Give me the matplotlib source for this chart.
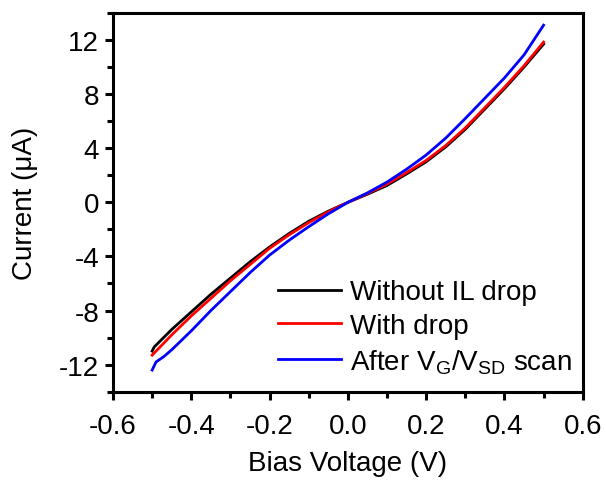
import matplotlib
matplotlib.use("Agg")
import matplotlib.pyplot as plt
from matplotlib.ticker import MultipleLocator

plt.rcParams['font.family'] = ['Liberation Sans', 'DejaVu Sans']
plt.rcParams['mathtext.fontset'] = 'custom'
plt.rcParams['mathtext.rm'] = 'Liberation Sans'

# Data
v_black = [-0.5, -0.495, -0.45, -0.40, -0.35, -0.30, -0.25, -0.20, -0.15, -0.10, -0.05,
           0.0, 0.05, 0.10, 0.15, 0.20, 0.25, 0.30, 0.35, 0.40, 0.45, 0.50]
i_black = [-11.0, -10.7, -9.4, -8.1, -6.8, -5.6, -4.4, -3.3, -2.3, -1.4, -0.65,
           0.0, 0.6, 1.25, 2.1, 3.0, 4.1, 5.4, 6.9, 8.4, 10.0, 11.7]

v_red = [-0.5, -0.45, -0.40, -0.35, -0.30, -0.25, -0.20, -0.15, -0.10, -0.05,
         0.0, 0.05, 0.10, 0.15, 0.20, 0.25, 0.30, 0.35, 0.40, 0.45, 0.50]
i_red = [-11.3, -9.8, -8.4, -7.1, -5.8, -4.6, -3.4, -2.4, -1.5, -0.7,
         0.0, 0.65, 1.35, 2.2, 3.1, 4.2, 5.5, 7.0, 8.5, 10.1, 11.85]

v_blue = [-0.5, -0.49, -0.47, -0.45, -0.40, -0.35, -0.30, -0.25, -0.20, -0.15, -0.10, -0.05,
          0.0, 0.05, 0.10, 0.15, 0.20, 0.25, 0.30, 0.35, 0.40, 0.45, 0.50]
i_blue = [-12.4, -11.8, -11.4, -10.9, -9.5, -8.0, -6.6, -5.2, -3.9, -2.8, -1.8, -0.85,
          0.0, 0.7, 1.5, 2.45, 3.5, 4.75, 6.2, 7.7, 9.2, 10.9, 13.1]

labels = ['Without IL drop', 'With drop', r'After V$_\mathregular{G}$/V$_\mathregular{SD}$ scan']
colors = ['#000000', '#ff0000', '#0000ff']

FS = 20

fig = plt.figure(figsize=(6.06, 4.81), dpi=100)
ax = fig.add_axes([0.1865, 0.1836, 0.7751, 0.7873])

for v, i, lab, c in zip([v_black, v_red, v_blue], [i_black, i_red, i_blue], labels, colors):
    ax.plot(v, i, color=c, lw=2.0, label=lab)

ax.set_xlim(-0.6, 0.6)
ax.set_ylim(-14, 14)
ax.xaxis.set_minor_locator(MultipleLocator(0.1))
ax.yaxis.set_minor_locator(MultipleLocator(2))
ax.set_xticks([-0.6, -0.4, -0.2, 0.0, 0.2, 0.4, 0.6])
ax.set_xticklabels(['-0.6', '-0.4', '-0.2', '0.0', '0.2', '0.4', '0.6'])
ax.set_yticks([-12, -8, -4, 0, 4, 8, 12])
ax.set_yticklabels(['-12', '-8', '-4', '0', '4', '8', '12'])

for s in ax.spines.values():
    s.set_linewidth(2.2)
ax.tick_params(which='both', direction='out', width=2.2, labelsize=FS, top=False, right=False)
ax.tick_params(which='major', length=6)
ax.tick_params(axis='x', which='major', pad=9)
ax.tick_params(axis='y', which='major', pad=4)
ax.tick_params(which='minor', length=4)

ax.set_xlabel('Bias Voltage (V)', fontsize=FS, labelpad=8)
ax.set_ylabel('Current (μA)', fontsize=FS, labelpad=15)

leg = ax.legend(loc='lower right', bbox_to_anchor=(1.018, -0.009), frameon=False, fontsize=FS,
                handlelength=2.27, handletextpad=0.32, labelspacing=0.28, borderpad=0.2)

fig.savefig('out.png', dpi=100)
